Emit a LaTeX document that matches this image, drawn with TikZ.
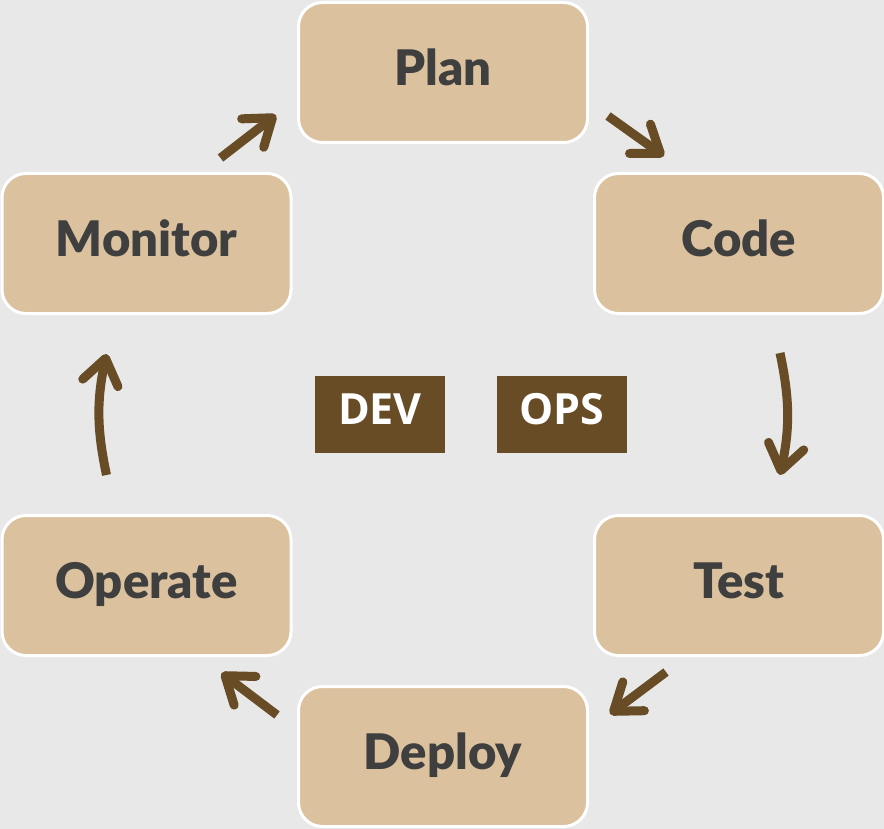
\documentclass[tikz,border=0pt]{standalone}
\usepackage{fontspec}
\setmainfont{Lato}
\newfontfamily\stagefont{Lato}[UprightFont=* Black]
\newfontfamily\tagfont{Open Sans}
\usetikzlibrary{arrows.meta}

\definecolor{bggray}{HTML}{E8E8E8}
\definecolor{stagefill}{HTML}{DBC19D}
\definecolor{stagetext}{HTML}{3F3F3F}
\definecolor{tagbrown}{HTML}{674C25}

\begin{document}
\begin{tikzpicture}[x=1pt,y=-1pt,
	stage/.style={draw=white,line width=3pt,fill=stagefill,rounded corners=24pt,
		minimum width=289pt,minimum height=140pt,text=stagetext,
		text height=36pt,text depth=10pt,font=\stagefont\fontsize{49}{60}\selectfont},
	tag/.style={fill=tagbrown,text=white,minimum width=130pt,minimum height=77pt,inner sep=0pt,
		text height=31pt,text depth=12pt,font=\tagfont\fontsize{43}{50}\selectfont\bfseries},
	flow/.style={draw=tagbrown,line width=9pt,-{Straight Barb[round,length=25pt,width=36pt]}}]
	\fill[bggray] (0,0) rectangle (884,829);
	\useasboundingbox (0,0) rectangle (884,829);
	
	% the six stages
	\node[stage] (plan) at (443,72.5) {Plan};
	\node[stage] (code) at (739,243.5) {Code};
	\node[stage] (test) at (739,585.5) {Test};
	\node[stage] (deploy) at (443,756.5) {Deploy};
	\node[stage] (operate) at (146.5,585.5) {Operate};
	\node[stage] (monitor) at (146.5,243.5) {Monitor};
	
	\node[tag] (dev) at (380,414.5) {DEV};
	\node[tag] (ops) at (561.5,414.5) {OPS};
	
	% the loop
	\draw[flow] ([shift={(-72,-14)}]monitor.north east) -- ([shift={(-21,-29)}]plan.south west);
	\draw[flow] ([shift={(19,-28)}]plan.south east) -- ([shift={(71,-16)}]code.north west);
	\draw[flow] ([shift={(41,38)}]code.south) to[bend left=12] ([shift={(41,-39)}]test.north);
	\draw[flow] ([shift={(73,15)}]test.south west) -- ([shift={(21,29)}]deploy.north east);
	\draw[flow] ([shift={(-20,30)}]deploy.north west) -- ([shift={(-71,16)}]operate.south east);
	\draw[flow] ([shift={(-40,-39)}]operate.north) to[bend left=12] ([shift={(-40,39)}]monitor.south);
\end{tikzpicture}
\end{document}
